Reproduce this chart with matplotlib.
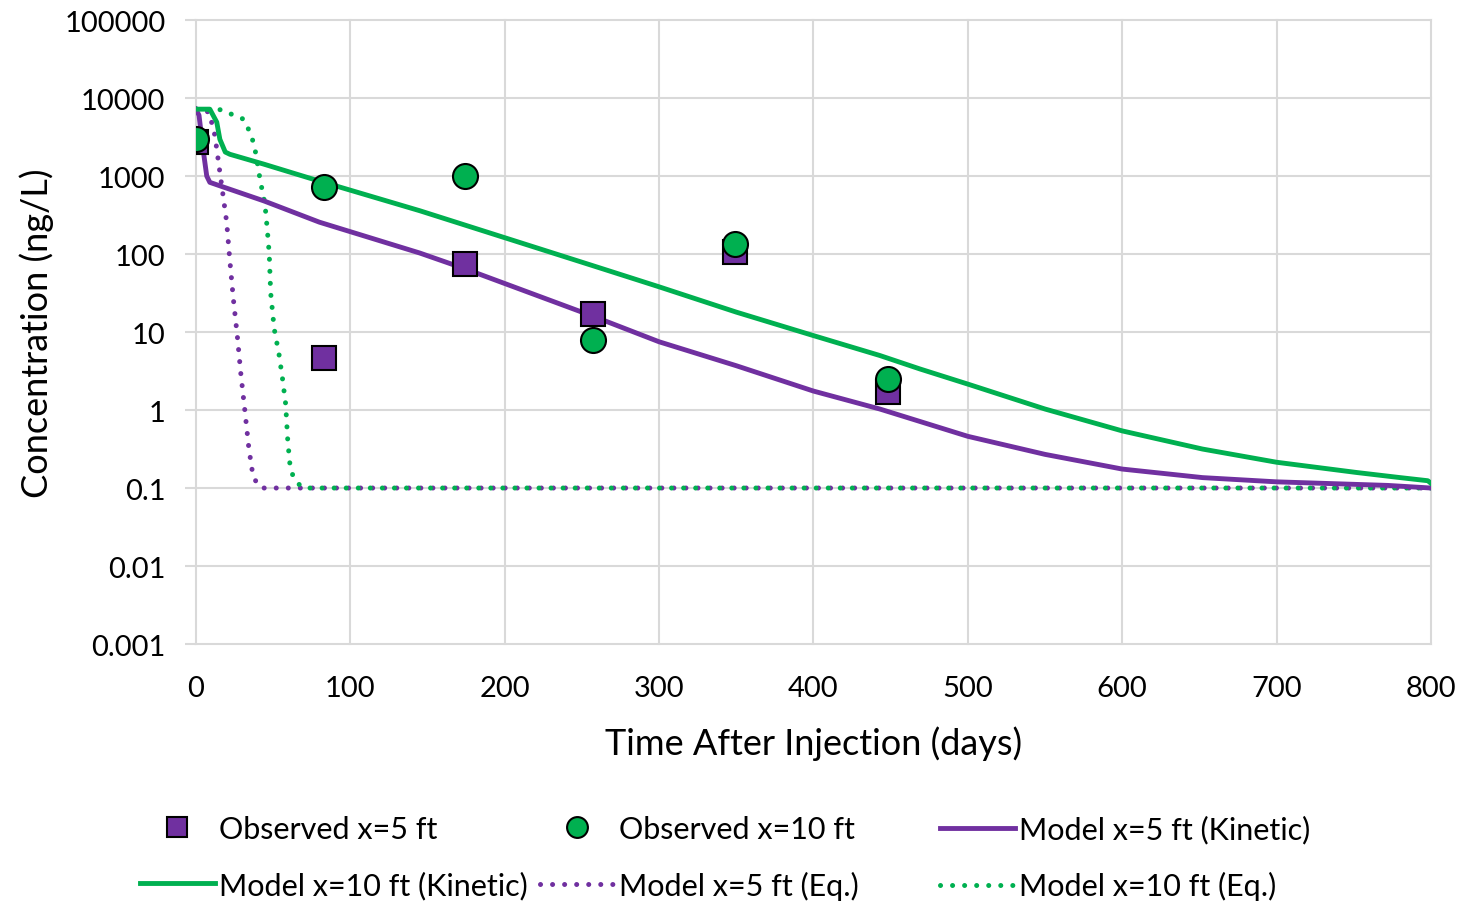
import matplotlib
matplotlib.use("Agg")
import matplotlib.pyplot as plt
from matplotlib.lines import Line2D

# Observed concentrations at the two monitoring wells
obs_days = [0, 83, 174, 257, 349, 448]
obs_conc_5ft = [2730, 4.6, 74, 17, 106, 1.7]
obs_conc_10ft = [2980, 723, 1000, 7.9, 134, 2.5]

# Kinetic sorption model
kin_days_5ft = [0, 2, 4.5, 7, 9, 18, 44, 80, 145, 174, 257, 300, 350, 400, 443,
                500, 550, 600, 652, 700, 772, 800]
kin_conc_5ft = [7200, 6000, 2300, 1000, 830, 720, 480, 256, 103, 65, 16, 7.5, 3.7,
                1.75, 1.03, 0.46, 0.27, 0.175, 0.136, 0.12, 0.108, 0.1]

kin_days_10ft = [0, 9, 13.5, 15.5, 19, 22, 44, 65, 76, 145, 174, 257, 300, 350,
                 400, 443, 469, 500, 550, 600, 652, 700, 752, 780, 798, 800]
kin_conc_10ft = [7200, 7200, 4900, 2960, 2030, 1900, 1420, 1060, 910, 359, 236, 71,
                 38, 18, 9.0, 5.0, 3.36, 2.15, 1.03, 0.54, 0.316, 0.214, 0.158,
                 0.136, 0.124, 0.115]

# Equilibrium sorption model
eq_days_5ft = [0, 5, 8.6, 12.3, 15.5, 17.7, 19.9, 22, 24.2, 26.8, 29.1, 31.7, 34.3,
               36.7, 39.7, 44, 800]
eq_conc_5ft = [7200, 7100, 6500, 3300, 1120, 540, 257, 81, 27, 8.9, 2.9, 0.98,
               0.32, 0.155, 0.11, 0.1, 0.1]

eq_days_10ft = [0, 16, 30.7, 34.3, 37.1, 38.9, 41.5, 44.7, 46.2, 47.5, 48.4, 50.7,
                53.8, 56.1, 58.1, 59.5, 61, 63, 67.8, 72, 800]
eq_conc_10ft = [7200, 7080, 5370, 3890, 2750, 1900, 912, 437, 209, 100, 32, 11,
                5.2, 2.5, 1.2, 0.4, 0.19, 0.14, 0.105, 0.1, 0.1]

x_ticks = [0, 100, 200, 300, 400, 500, 600, 700, 800]
y_ticks = [0.001, 0.01, 0.1, 1, 10, 100, 1000, 10000, 100000]
y_tick_labels = ["0.001", "0.01", "0.1", "1", "10", "100", "1000", "10000", "100000"]

PURPLE = "#7030A0"
GREEN = "#00B050"
GRID = "#D9D9D9"
FONT = "Lato"

plt.rcParams["font.family"] = [FONT, "DejaVu Sans"]

fig = plt.figure(figsize=(14.6, 9.03), dpi=100)
ax = fig.add_axes([0.1342, 0.2857, 0.8459, 0.6910])

dots = (0, (0.01, 2.4))
LW_SOLID = 3.5
LW_DOT = 3.6

ax.plot(kin_days_5ft, kin_conc_5ft, color=PURPLE, lw=LW_SOLID, zorder=3,
        solid_joinstyle="round")
ax.plot(kin_days_10ft, kin_conc_10ft, color=GREEN, lw=LW_SOLID, zorder=3,
        solid_joinstyle="round")
ax.plot(eq_days_5ft, eq_conc_5ft, color=PURPLE, lw=LW_DOT, linestyle=dots,
        dash_capstyle="round", zorder=2)
ax.plot(eq_days_10ft, eq_conc_10ft, color=GREEN, lw=LW_DOT, linestyle=dots,
        dash_capstyle="round", zorder=2)
ax.plot(obs_days, obs_conc_5ft, linestyle="none", marker="s", ms=17,
        mfc=PURPLE, mec="black", mew=1.5, zorder=5)
ax.plot(obs_days, obs_conc_10ft, linestyle="none", marker="o", ms=18,
        mfc=GREEN, mec="black", mew=1.5, zorder=6)

ax.set_yscale("log")
ax.set_xlim(0, 800)
ax.set_ylim(0.001, 100000)
ax.set_xticks(x_ticks)
ax.set_xticklabels([str(v) for v in x_ticks])
ax.set_yticks(y_ticks)
ax.set_yticklabels(y_tick_labels)
ax.yaxis.set_minor_locator(matplotlib.ticker.NullLocator())

for side in ("top", "right", "left", "bottom"):
    ax.spines[side].set_visible(False)
ax.grid(True, color=GRID, lw=1.5, zorder=0)
ax.set_axisbelow(True)
ax.tick_params(axis="y", length=8, width=1.5, color=GRID, labelsize=21, pad=14)
ax.tick_params(axis="x", length=0, labelsize=21, pad=22)
for ln in ax.get_xgridlines() + ax.get_ygridlines():
    ln.set_clip_on(False)

ax.set_xlabel("Time After Injection (days)", fontsize=26, labelpad=18)
ax.set_ylabel("Concentration (ng/L)", fontsize=26, labelpad=7)

# Legend laid out as three fixed-width columns
h_obs5 = Line2D([], [], linestyle="none", marker="s", ms=14.5, mfc=PURPLE,
                mec="black", mew=1.5)
h_obs10 = Line2D([], [], linestyle="none", marker="o", ms=15, mfc=GREEN,
                 mec="black", mew=1.5)
h_kin5 = Line2D([], [], color=PURPLE, lw=LW_SOLID)
h_kin10 = Line2D([], [], color=GREEN, lw=LW_SOLID)
h_eq5 = Line2D([], [], color=PURPLE, lw=LW_DOT, linestyle=dots, dash_capstyle="round")
h_eq10 = Line2D([], [], color=GREEN, lw=LW_DOT, linestyle=dots, dash_capstyle="round")

columns = [
    ([h_obs5, h_kin10], ["Observed x=5 ft", "Model x=10 ft (Kinetic)"], 140),
    ([h_obs10, h_eq5], ["Observed x=10 ft", "Model x=5 ft (Eq.)"], 540),
    ([h_kin5, h_eq10], ["Model x=5 ft (Kinetic)", "Model x=10 ft (Eq.)"], 940),
]
for handles, labels, x_px in columns:
    fig.legend(handles, labels, loc="upper left",
               bbox_to_anchor=(x_px / 1460, 1 - 816 / 903),
               frameon=False, fontsize=22, handlelength=2.45,
               handletextpad=0.15, labelspacing=0.9, borderpad=0,
               borderaxespad=0)

fig.savefig("out.png", dpi=100)
